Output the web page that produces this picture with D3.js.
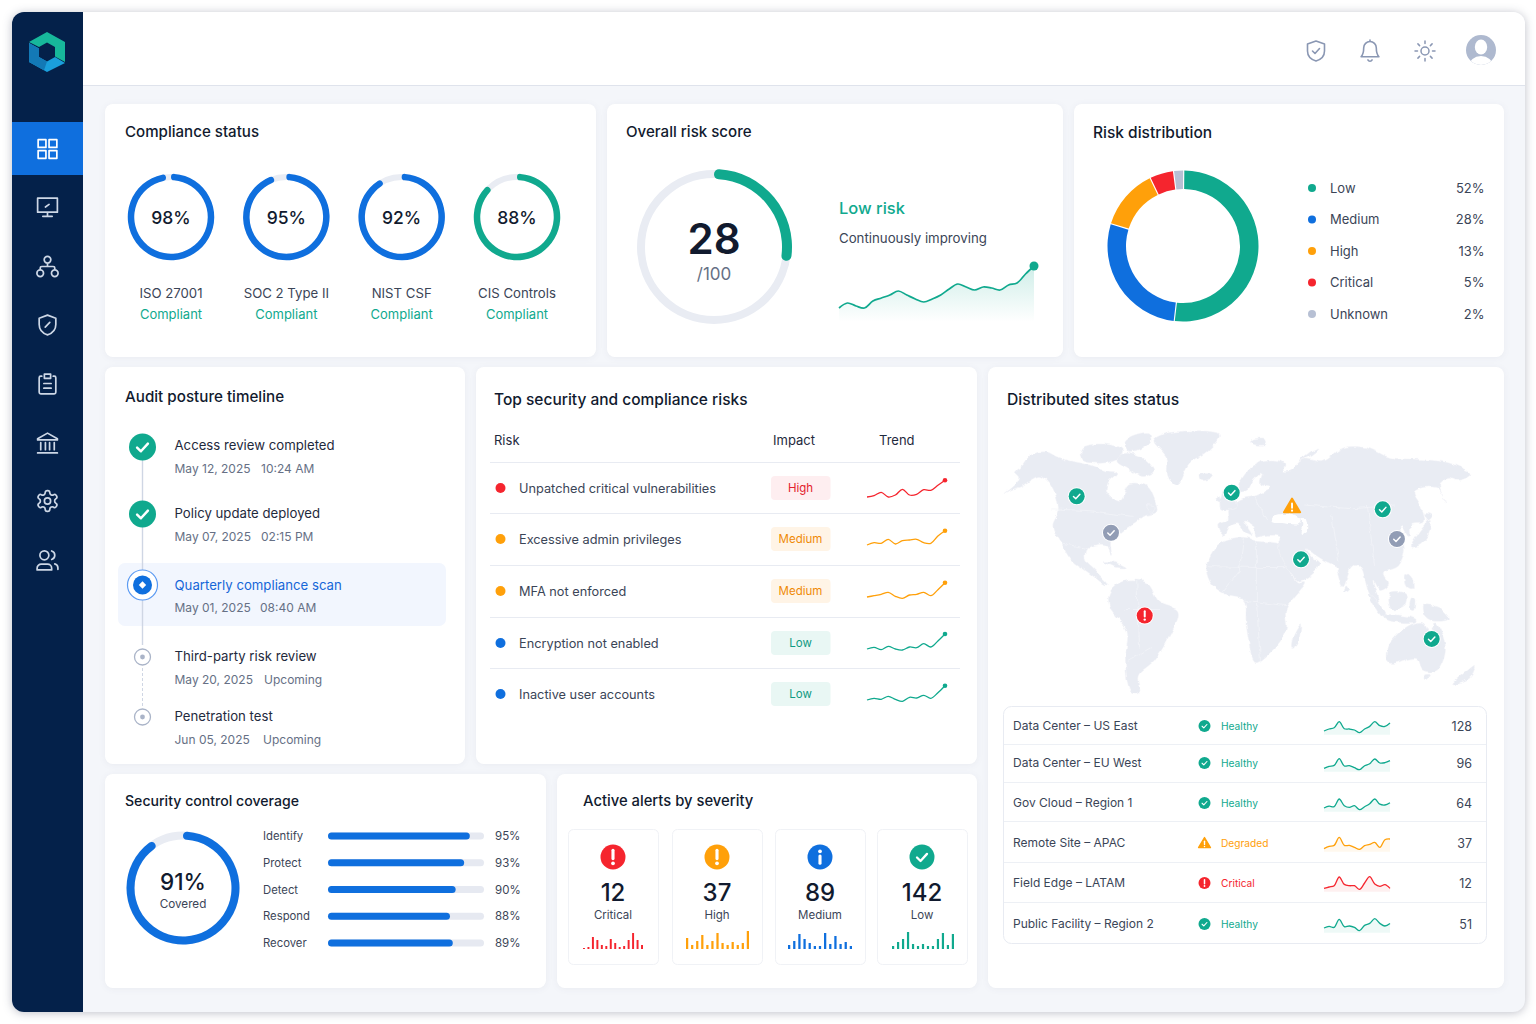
<!DOCTYPE html>
<html>
<head>
<meta charset="utf-8">
<title>Security compliance dashboard</title>
<script src="https://cdn.jsdelivr.net/npm/d3@7"></script>
<style>
  html, body { margin: 0; background: #fff; }
  svg { display: block; font-family: Inter, "Noto Sans", sans-serif; }
</style>
</head>
<body>
<svg id="chart" width="1536" height="1024"></svg>
<script>
// ---- data ----
const complianceNames = ["ISO 27001", "SOC 2 Type II", "NIST CSF", "CIS Controls"];
const complianceValues = [98, 95, 92, 88];

const riskScore = 28;
const riskScoreTrend = [2, 7, 4, 2, 9, 12, 15, 19, 15, 11, 8, 11, 15, 21, 26, 23, 20, 23, 22, 20, 25, 27, 36, 44];

const riskLevels = ["Low", "Medium", "High", "Critical", "Unknown"];
const riskShares = [52, 28, 13, 5, 2];

const auditTitles = ["Access review completed", "Policy update deployed", "Quarterly compliance scan", "Third-party risk review", "Penetration test"];
const auditDates = ["May 12, 2025", "May 07, 2025", "May 01, 2025", "May 20, 2025", "Jun 05, 2025"];
const auditNotes = ["10:24 AM", "02:15 PM", "08:40 AM", "Upcoming", "Upcoming"];
const auditStates = ["done", "done", "active", "next", "next"];

const topRisks = ["Unpatched critical vulnerabilities", "Excessive admin privileges", "MFA not enforced", "Encryption not enabled", "Inactive user accounts"];
const topRiskImpact = ["High", "Medium", "Medium", "Low", "Low"];
const topRiskDots = ["Critical", "High", "High", "Medium", "Medium"];
const topRiskTrends = [
  [-3, -1.7, 1.7, -3, -1, 4.7, -1, -0.3, 4.3, 3.7, 8.7, 13.7],
  [0, 2.3, 1.7, 5.7, 1, 4.3, 5, 5.7, 2.3, 1.7, 9, 14.3],
  [0, 1.3, 2.7, 4.7, 0.7, -1.3, 2, 2.7, 4.7, 1.3, 7.3, 14.3],
  [0, 1.7, -0.7, 2.7, 0, -1, 2, 1.3, 5.3, 2, 8, 15],
  [0, 1.7, 0.7, 3.7, 0.7, -1.3, 2.7, 2, 4.7, 1.7, 7.3, 14.3]
];

const coverageTotal = 91;
const coverageNames = ["Identify", "Protect", "Detect", "Respond", "Recover"];
const coverageValues = [95, 93, 90, 88, 89];

const alertNames = ["Critical", "High", "Medium", "Low"];
const alertCounts = [12, 37, 89, 142];
const alertBars = [
  [1, 2, 12, 9, 4, 3, 10, 6, 2, 3, 9, 16, 9, 4],
  [11, 4, 8, 14, 4, 8, 16, 6, 4, 7, 4, 6, 18],
  [4, 8, 15, 10, 6, 3, 3, 16, 5, 13, 5, 7, 3],
  [3, 7, 10, 17, 5, 3, 5, 3, 3, 10, 16, 4, 15]
];

const siteNames = ["Data Center – US East", "Data Center – EU West", "Gov Cloud – Region 1", "Remote Site – APAC", "Field Edge – LATAM", "Public Facility – Region 2"];
const siteStates = ["Healthy", "Healthy", "Healthy", "Degraded", "Critical", "Healthy"];
const siteCounts = [128, 96, 64, 37, 12, 51];
const siteTrends = [
  [1.7, 3.7, 5, 11, 4, 3.7, 2.7, 0, 3.7, 6.3, 11, 7, 6.3, 9.7],
  [1.3, 3.3, 4.3, 11, 3.7, 4, 2, 0, 4, 6, 10.7, 6.7, 7, 9],
  [1.7, 3.5, 3, 10.7, 4, 2.3, 4, 0, 3, 6, 10.7, 5.5, 4.7, 7],
  [1, 3.3, 4.3, 12.3, 4.3, 4.3, 2.3, 0.3, 4, 5.3, 7.3, 2.3, 10, 10.7],
  [1.3, 2.7, 4, 12.7, 5.3, 4, 4, 0.3, 6.7, 13, 5.7, 3.3, 5, 1.3],
  [2.7, 4.3, 3.3, 11.3, 4, 4.7, 3.3, 0, 5.3, 7.3, 12, 7.3, 4.7, 7.3]
];

// map pins and land outlines as [lon, lat] in the picture's own stylised map
const pinCoords = [[-104.2, 54.6], [-80.1, 35.4], [4.7, 56.5], [47.1, 49.5], [110.8, 47.7], [120.8, 32.1], [53.4, 21.4], [-56.4, -8.2], [145.2, -20.5]];
const pinStates = ["ok", "idle", "ok", "warn", "ok", "idle", "ok", "crit", "ok"];

const northAmerica = [[-154.6, 56], [-147, 61], [-145, 64], [-148, 67], [-142, 71], [-137, 76], [-126, 78], [-117, 75], [-107, 73], [-95, 71], [-84, 68], [-76, 67], [-82, 62], [-83, 57], [-74, 52], [-71, 55], [-67, 61], [-55, 60], [-50, 54], [-48, 46.5], [-57, 44], [-62, 41], [-73, 35], [-80, 31], [-80, 24], [-84, 29], [-97, 27], [-98, 21], [-92, 16], [-82, 8], [-84, 8], [-97, 15], [-108, 21], [-115, 30], [-121, 39], [-117, 47], [-122, 60], [-130, 65], [-144, 59.5], [-150, 58]];
const southAmerica = [[-81, 4], [-71, 10], [-55, 9], [-46, -1], [-33, -6], [-39, -19], [-50, -32], [-61, -40], [-60, -49], [-66, -48.5], [-70, -32], [-69, -16], [-81, -3.5]];
const africa = [[-13, 17.5], [-3.5, 30], [13, 33], [22, 31], [39, 29], [43, 19], [51.5, 9], [56, 9], [43, -5], [43, -16], [34, -26], [22, -33], [20, -32], [15, -14], [13, 0], [-1, 3.5], [-10, 9]];
const eurasia = [[-1, 34], [-5, 39.5], [2, 42], [2, 47], [11, 53], [22, 55], [32, 59], [25, 61], [26, 67], [19, 62], [16, 58], [9, 57], [12, 64], [25, 73], [42, 72], [41, 68], [46, 68], [55, 74], [69, 73], [83, 80], [100, 80], [116, 75], [137, 74], [158, 72], [173, 66], [164, 63], [157, 64], [151, 61], [155, 51], [149, 59], [133, 57], [138, 49], [140, 41], [131, 39.5], [130, 33], [124, 39], [126, 26], [122, 18], [112, 14], [115, 8], [109, 5], [104, 10.5], [110, -6], [101, 4], [95, 17.5], [89, 17.5], [83, 7], [77, 17.5], [69, 21], [63, 24], [57, 27], [61, 23], [67, 19], [56, 10.5], [51.5, 9.6], [44.5, 16], [37.5, 27], [39, 33], [28, 34], [22, 33], [20, 39], [13, 42], [19, 34], [15, 35], [9, 40], [3.5, 39]];
const australia = [[114, -25], [128, -14], [139, -12], [144, -17.5], [147.5, -12], [155, -25], [149, -37], [139, -37], [135, -31], [115, -33]];
const greenland = [[-50, 84], [-39, 88], [-4, 87], [-13, 78], [-25, 72], [-34, 60], [-40, 65], [-41, 75]];
const islands = [
  [[-100, 80], [-84, 82], [-72, 79], [-76, 74], [-90, 72], [-100, 74]],
  [[-70, 84], [-54, 88], [-52, 84], [-60, 79], [-68, 78]],
  [[-72, 77], [-58, 75], [-50, 68], [-57, 65], [-68, 69], [-76, 73]],
  [[-55, 50], [-49, 49], [-52, 45.5]],
  [[-85, 20], [-78, 20], [-70, 17], [-78, 17.5]],
  [[-18, 66], [-8, 66], [-10, 64], [-17, 63]],
  [[-3, 48], [0, 59], [7, 53], [9, 49]],
  [[-7, 53], [-4, 55], [-3.5, 51]],
  [[18, 84], [28, 85], [29, 82], [20, 82]],
  [[52, 73], [62, 79], [66, 80], [60, 76]],
  [[139, 38], [144, 42], [143, 34.5], [137, 29], [131, 28]],
  [[140, 46], [146, 45], [143, 42]],
  [[127, 14], [131, 12], [132, 6], [128, 7]],
  [[116, 4], [127, 3], [126, -3], [117, -5]],
  [[101, 3], [106, 0], [114, -9], [110, -8]],
  [[112, -8], [134, -10], [134, -11.5], [112, -10]],
  [[131, 1], [134, 0], [133, -5], [130, -4]],
  [[139, -3], [150, -4], [157, -10], [146, -11], [140, -8]],
  [[140, -39.5], [145, -39.5], [142, -42]],
  [[160, -44], [172, -36], [176, -34], [172, -41]],
  [[85, 7.5], [87, 5], [84, 4]],
  [[48, -19], [53, -13], [51, -23], [47, -25]]
];
const inlandSeas = [
  [[34, 44], [46, 45], [53, 42], [52, 40], [40, 40.5], [33, 41]],
  [[53, 43], [57, 43], [58, 36], [54, 35], [55, 40]]
];
const borderLines = [
  [[-122, 48], [-95, 47], [-65, 44]], [[-115, 30], [-97, 27]],
  [[-70, -5], [-45, -5]], [[-62, 10], [-60, -25]], [[-68, -32], [-52, -25]],
  [[13, 33], [10, 15], [-2, 3.5]], [[22, 31], [22, 0], [25, -33]], [[-13, 17.5], [43, 17]], [[13, 0], [43, -3]],
  [[55, 50], [90, 48], [120, 50]], [[75, 45], [80, 20]], [[100, 50], [105, 18]], [[21, 54], [30, 42]]
];

// ---- palette ----
const teal = "#10a98e", blue = "#0f6fde", orange = "#ffa00a", red = "#f5252e", grey = "#b7c0d4";
const ink = "#111a2e", body = "#3b4557", muted = "#667085", hairline = "#e8ebf2";
const levelColor = d3.scaleOrdinal(riskLevels, [teal, blue, orange, red, grey]);
const stateColor = d3.scaleOrdinal(["Healthy", "Degraded", "Critical"], [teal, orange, red]);
const impactColor = d3.scaleOrdinal(["High", "Medium", "Low"], ["#e3212b", "#ef8a06", "#0f9a82"]);
const impactFill = d3.scaleOrdinal(["High", "Medium", "Low"], ["#feeef0", "#fff4e6", "#e9f7f4"]);
const pinColor = d3.scaleOrdinal(["ok", "idle", "warn", "crit"], [teal, "#929db5", orange, red]);

const svg = d3.select("#chart");
const defs = svg.append("defs");

function label(g, x, y, str, size, fill, weight, anchor) {
  return g.append("text")
    .attr("x", x).attr("y", y).attr("dy", "0.36em")
    .attr("font-size", size).attr("fill", fill)
    .attr("font-weight", weight || 400)
    .attr("text-anchor", anchor || "start")
    .text(str);
}

function card(x, y, w, h) {
  return svg.append("rect")
    .attr("x", x).attr("y", y).attr("width", w).attr("height", h)
    .attr("rx", 8).attr("fill", "#fff")
    .style("filter", "drop-shadow(0 1px 3px rgba(30,45,80,0.05))");
}

function icon(g, d, cx, cy, s, stroke, sw) {
  g.append("path")
    .attr("transform", `translate(${cx - 12 * s},${cy - 12 * s}) scale(${s})`)
    .attr("d", d).attr("fill", "none").attr("stroke", stroke)
    .attr("stroke-width", sw / s).attr("stroke-linecap", "round").attr("stroke-linejoin", "round");
}

// small round/triangle status glyph
function glyph(g, cx, cy, r, kind, color) {
  const s = r / 12;
  const t = g.append("g").attr("transform", `translate(${cx},${cy}) scale(${s})`);
  if (kind === "warn") {
    t.append("path").attr("d", "M0 -12 L13 10 H-13 Z").attr("fill", color)
      .attr("stroke", color).attr("stroke-width", 3).attr("stroke-linejoin", "round");
    t.append("path").attr("d", "M0 -4 V3").attr("stroke", "#fff").attr("stroke-width", 3).attr("stroke-linecap", "round");
    t.append("circle").attr("cy", 7.5).attr("r", 1.7).attr("fill", "#fff");
    return t;
  }
  t.append("circle").attr("r", 12).attr("fill", color);
  if (kind === "check") {
    t.append("path").attr("d", "M-4.8 0.5 L-1.4 3.8 L4.8 -3").attr("fill", "none")
      .attr("stroke", "#fff").attr("stroke-width", 2.2).attr("stroke-linecap", "round").attr("stroke-linejoin", "round");
  } else if (kind === "bang") {
    t.append("path").attr("d", "M0 -6.5 V1.5").attr("stroke", "#fff").attr("stroke-width", 3).attr("stroke-linecap", "round");
    t.append("circle").attr("cy", 6).attr("r", 1.8).attr("fill", "#fff");
  } else if (kind === "info") {
    t.append("path").attr("d", "M0 -1 V6").attr("stroke", "#fff").attr("stroke-width", 3).attr("stroke-linecap", "round");
    t.append("circle").attr("cy", -5.5).attr("r", 1.8).attr("fill", "#fff");
  }
  return t;
}

// one progress ring: pale track and a round-ended arc
function ring(g, cx, cy, r, trackW, barW, pct, color) {
  const angle = d3.scaleLinear([0, 100], [0, 2 * Math.PI]);
  const host = g.append("g").attr("transform", `translate(${cx},${cy})`);
  host.append("circle").attr("r", r).attr("fill", "none").attr("stroke", "#e9ecf3").attr("stroke-width", trackW);
  host.append("path")
    .attr("fill", color)
    .attr("d", d3.arc()
      .innerRadius(r - barW / 2).outerRadius(r + barW / 2)
      .cornerRadius(barW / 2)
      .startAngle(0).endAngle(angle(pct))());
}

// thin trend line, optional pale area underneath and end dot
function spark(g, values, x0, x1, baseY, color, areaDepth, dotR) {
  const x = d3.scalePoint(d3.range(values.length), [x0, x1]);
  const y = v => baseY - v;
  const line = d3.line().x((d, i) => x(i)).y(y).curve(d3.curveCatmullRom.alpha(0.5));
  if (areaDepth) {
    g.append("path").attr("fill", color).attr("opacity", 0.07)
      .attr("d", d3.area().x((d, i) => x(i)).y0(baseY + areaDepth).y1(y).curve(d3.curveCatmullRom.alpha(0.5))(values));
  }
  g.append("path").attr("fill", "none").attr("stroke", color).attr("stroke-width", 1.3)
    .attr("stroke-linejoin", "round").attr("d", line(values));
  if (dotR) g.append("circle").attr("cx", x1).attr("cy", y(values[values.length - 1])).attr("r", dotR).attr("fill", color);
}

// ---- shell ----
svg.append("rect")
  .attr("x", 12).attr("y", 12).attr("width", 1513).attr("height", 1000).attr("rx", 12)
  .attr("fill", "#f4f6fa")
  .style("filter", "drop-shadow(0 1px 5px rgba(20,30,60,0.28))");

svg.append("path")
  .attr("d", "M24 12 H83 V1012 H24 A12 12 0 0 1 12 1000 V24 A12 12 0 0 1 24 12 Z")
  .attr("fill", "#04214a");
svg.append("path")
  .attr("d", "M83 12 H1513 A12 12 0 0 1 1525 24 V85 H83 Z")
  .attr("fill", "#fff");
svg.append("line").attr("x1", 83).attr("x2", 1525).attr("y1", 85.5).attr("y2", 85.5).attr("stroke", "#dfe3ec");
svg.append("rect").attr("x", 12).attr("y", 122).attr("width", 71).attr("height", 53).attr("fill", blue);

// logo
const logo = svg.append("g").attr("transform", "translate(47,52)");
logo.append("path").attr("d", "M0 -20 L18 -10 V10 L8 4.5 V-5 L0 -9.5 L-8 -5 L-18 -10 Z").attr("fill", "#17b89b");
logo.append("path").attr("d", "M-18 -9 L-8 -3.5 V5 L0 9.5 L8 5 L18 11 L0 20 L-18 10 Z").attr("fill", "#1a9fdc");
logo.append("path").attr("d", "M-18 -9 L-8 -3.5 V5 L0 9.5 L-3 18.2 L-18 10 Z").attr("fill", "#1379b6");

// sidebar + header icons
const navIcons = [
  "M3 3h7.5v7.5H3zM13.5 3H21v7.5h-7.5zM3 13.5h7.5V21H3zM13.5 13.5H21V21h-7.5z",
  "M2.5 3.5h19v13.5h-19zM12 17v4M7.5 21h9M10 12l3.5-2.5",
  "M12 5m-3.2 0a3.2 3.2 0 1 0 6.4 0a3.2 3.2 0 1 0-6.4 0M5 18m-3.2 0a3.2 3.2 0 1 0 6.4 0a3.2 3.2 0 1 0-6.4 0M19 18m-3.2 0a3.2 3.2 0 1 0 6.4 0a3.2 3.2 0 1 0-6.4 0M12 8.2v3.3M5 14.8V13a1.5 1.5 0 0 1 1.5-1.5h11A1.5 1.5 0 0 1 19 13v1.8",
  "M12 2.5 20 5.5v6c0 5-3.5 8.5-8 10-4.5-1.5-8-5-8-10v-6zM9.8 14l4.4-4.5",
  "M6.5 4.5h-1a1.5 1.5 0 0 0-1.5 1.5v14a1.5 1.5 0 0 0 1.5 1.5h13a1.5 1.5 0 0 0 1.5-1.5V6a1.5 1.5 0 0 0-1.5-1.5h-1M9 2.5h6v4H9zM8.5 11.5h7M8.5 16h7",
  "M12 2.5 2.5 8v1h19V8zM5.5 11.5v7M10 11.5v7M14 11.5v7M18.5 11.5v7M2.5 21.5h19",
  "M12.22 2h-.44a2 2 0 0 0-2 2v.18a2 2 0 0 1-1 1.73l-.43.25a2 2 0 0 1-2 0l-.15-.08a2 2 0 0 0-2.73.73l-.22.38a2 2 0 0 0 .73 2.73l.15.1a2 2 0 0 1 1 1.72v.51a2 2 0 0 1-1 1.74l-.15.09a2 2 0 0 0-.73 2.73l.22.38a2 2 0 0 0 2.73.73l.15-.08a2 2 0 0 1 2 0l.43.25a2 2 0 0 1 1 1.73V20a2 2 0 0 0 2 2h.44a2 2 0 0 0 2-2v-.18a2 2 0 0 1 1-1.73l.43-.25a2 2 0 0 1 2 0l.15.08a2 2 0 0 0 2.73-.73l.22-.39a2 2 0 0 0-.73-2.73l-.15-.08a2 2 0 0 1-1-1.74v-.5a2 2 0 0 1 1-1.74l.15-.09a2 2 0 0 0 .73-2.73l-.22-.38a2 2 0 0 0-2.73-.73l-.15.08a2 2 0 0 1-2 0l-.43-.25a2 2 0 0 1-1-1.73V4a2 2 0 0 0-2-2zM12 12m-3 0a3 3 0 1 0 6 0a3 3 0 1 0-6 0",
  "M16 21.5v-1.5a4 4 0 0 0-4-4H6a4 4 0 0 0-4 4v1.5zM9 7.5m-4.3 0a4.3 4.3 0 1 0 8.6 0a4.3 4.3 0 1 0-8.6 0M16 3.3a4.3 4.3 0 0 1 0 8.2M22 21v-1.5a4 4 0 0 0-3-3.8"
];
const navY = [149, 207, 267, 325, 384, 443, 501, 560];
const navLayer = svg.append("g");
navIcons.forEach((d, i) => icon(navLayer, d, 47.5, navY[i], 1.04, i === 0 ? "#fff" : "#cdd7e6", 1.7));

const topLayer = svg.append("g");
icon(topLayer, "M12 2 20.5 5v7c0 5-3.5 8.5-8.5 10-5-1.5-8.5-5-8.5-10V5zM8.5 12l2.5 2.5 4.5-5", 1316, 51, 1, "#8a97b3", 1.6);
icon(topLayer, "M6 9a6 6 0 0 1 12 0c0 6 2.5 8.5 2.5 8.5h-17S6 15 6 9M10 20.5a2.2 2.2 0 0 0 4 0M12 1.5V3", 1370, 51, 1.05, "#8a97b3", 1.6);
icon(topLayer, "M12 12m-4 0a4 4 0 1 0 8 0a4 4 0 1 0-8 0M12 2v2.5M12 19.5V22M4.9 4.9l1.7 1.7M17.4 17.4l1.7 1.7M2 12h2.5M19.5 12H22M6.6 17.4l-1.7 1.7M19.1 4.9l-1.7 1.7", 1425, 51, 1, "#8a97b3", 1.5);
const avatar = topLayer.append("g").attr("transform", "translate(1481,50)");
defs.append("clipPath").attr("id", "avatar-clip").append("circle").attr("r", 15);
avatar.append("circle").attr("r", 15).attr("fill", "#aeb9cf");
avatar.append("g").attr("clip-path", "url(#avatar-clip)").call(g => {
  g.append("ellipse").attr("cy", -3).attr("rx", 6.2).attr("ry", 7.5).attr("fill", "#fff");
  g.append("ellipse").attr("cy", 16).attr("rx", 12).attr("ry", 10).attr("fill", "#fff");
});

// ---- cards ----
[[105, 104, 491, 253], [607, 104, 456, 253], [1074, 104, 430, 253],
 [105, 367, 360, 397], [476, 367, 501, 397], [988, 367, 516, 621],
 [105, 774, 441, 214], [557, 774, 420, 214]].forEach(c => card(...c));

const titles = [["Compliance status", 125, 132, 15.1], ["Overall risk score", 626, 132, 15.1], ["Risk distribution", 1093, 132, 15.5],
  ["Audit posture timeline", 125, 397, 15.2], ["Top security and compliance risks", 494, 399, 15.5], ["Distributed sites status", 1007, 399, 15.7],
  ["Security control coverage", 125, 801, 14.1], ["Active alerts by severity", 583, 801, 14.8]];
titles.forEach(t => label(svg, t[1], t[2], t[0], t[3], ink, 500));

// ---- compliance rings ----
const complianceX = d3.scalePoint(complianceNames, [171, 517]);
const compliance = svg.append("g");
complianceNames.forEach((name, i) => {
  const cx = complianceX(name), color = i === 3 ? teal : blue;
  ring(compliance, cx, 217, 40, 6, 6.5, complianceValues[i], color);
  label(compliance, cx, 217.5, complianceValues[i] + "%", 17.5, ink, 500, "middle");
  label(compliance, cx, 293, name, 13.2, body, 400, "middle");
  label(compliance, cx, 314, "Compliant", 13, teal, 400, "middle");
});

// ---- overall risk score ----
const overall = svg.append("g");
ring(overall, 714, 247, 73, 8, 10, riskScore, teal);
label(overall, 714, 239, riskScore, 42, ink, 600, "middle");
label(overall, 714, 274, "/100", 17, muted, 400, "middle");
label(overall, 839, 208, "Low risk", 16.5, teal, 500);
label(overall, 839, 238, "Continuously improving", 13.25, body, 400);

const grad = defs.append("linearGradient").attr("id", "score-fade").attr("x1", 0).attr("x2", 0).attr("y1", 0).attr("y2", 1);
grad.append("stop").attr("offset", 0).attr("stop-color", teal).attr("stop-opacity", 0.2);
grad.append("stop").attr("offset", 1).attr("stop-color", teal).attr("stop-opacity", 0);
const scoreX = d3.scalePoint(d3.range(riskScoreTrend.length), [839, 1034]);
const scoreY = d3.scaleLinear([0, 44], [310, 266]);
overall.append("path").attr("fill", "url(#score-fade)")
  .attr("d", d3.area().x((d, i) => scoreX(i)).y0(322).y1(scoreY).curve(d3.curveCatmullRom.alpha(0.5))(riskScoreTrend));
overall.append("path").attr("fill", "none").attr("stroke", teal).attr("stroke-width", 1.7)
  .attr("d", d3.line().x((d, i) => scoreX(i)).y(scoreY).curve(d3.curveCatmullRom.alpha(0.5))(riskScoreTrend));
overall.append("circle").attr("cx", 1034).attr("cy", scoreY(44)).attr("r", 4.5).attr("fill", teal);

// ---- risk distribution ----
const donut = svg.append("g").attr("transform", "translate(1183,246)");
const pie = d3.pie().sort(null).padAngle(0.012).startAngle(0.01).endAngle(2 * Math.PI + 0.01)(riskShares);
donut.selectAll("path").data(pie).join("path")
  .attr("fill", (d, i) => levelColor(riskLevels[i]))
  .attr("d", d3.arc().innerRadius(57).outerRadius(75.5));
const legendY = d3.scalePoint(riskLevels, [188, 314]);
const legend = svg.append("g");
riskLevels.forEach((name, i) => {
  legend.append("circle").attr("cx", 1312).attr("cy", legendY(name)).attr("r", 4).attr("fill", levelColor(name));
  label(legend, 1330, legendY(name), name, 13, body);
  label(legend, 1484.5, legendY(name), riskShares[i] + "%", 13, body, 400, "end");
});

// ---- audit timeline ----
const timeline = svg.append("g");
const auditDotY = [447, 514, 585, 657, 717];
const auditTitleY = [445, 513, 585, 656, 716];
const auditSubY = [469, 537, 608, 680, 740];
const auditNoteX = [261, 261, 260, 264, 263];
timeline.append("rect").attr("x", 118).attr("y", 563).attr("width", 328).attr("height", 63).attr("rx", 7).attr("fill", "#f2f6fe");
timeline.append("line").attr("x1", 142.5).attr("x2", 142.5).attr("y1", 447).attr("y2", 645).attr("stroke", "#cfd6e4").attr("stroke-width", 1.4);
timeline.append("line").attr("x1", 142.5).attr("x2", 142.5).attr("y1", 668).attr("y2", 706).attr("stroke", "#cfd6e4").attr("stroke-width", 1).attr("stroke-dasharray", "3 2");
auditTitles.forEach((title, i) => {
  const state = auditStates[i], y = auditDotY[i];
  if (state === "done") {
    glyph(timeline, 142.5, y, 13.5, "check", teal);
  } else if (state === "active") {
    timeline.append("circle").attr("cx", 142.5).attr("cy", y).attr("r", 15).attr("fill", "#fff").attr("stroke", "#5b9af2").attr("stroke-width", 1.2);
    timeline.append("circle").attr("cx", 142.5).attr("cy", y).attr("r", 9.5).attr("fill", blue);
    timeline.append("path").attr("transform", `translate(142.5,${y}) rotate(45)`).attr("d", "M-2.6 -2.6h5.2v5.2h-5.2z").attr("fill", "#fff");
  } else {
    timeline.append("circle").attr("cx", 142.5).attr("cy", y).attr("r", 8).attr("fill", "#fff").attr("stroke", "#aab4c8").attr("stroke-width", 1.3);
    timeline.append("circle").attr("cx", 142.5).attr("cy", y).attr("r", 2.4).attr("fill", "#aab4c8");
  }
  label(timeline, 174.5, auditTitleY[i], title, 13.2, state === "active" ? "#1666d8" : "#1f2a3d");
  label(timeline, 174.5, auditSubY[i], auditDates[i], 12, muted);
  label(timeline, auditNoteX[i], auditSubY[i], auditNotes[i], 12, muted);
});

// ---- top risks table ----
const table = svg.append("g");
label(table, 494, 440, "Risk", 13, "#1f2a3d");
label(table, 773, 440, "Impact", 13, "#1f2a3d");
label(table, 879, 440, "Trend", 13, "#1f2a3d");
const riskRowY = [488, 539, 591, 643, 694];
[462, 513, 565, 617, 668].forEach(y => table.append("line").attr("x1", 490).attr("x2", 960).attr("y1", y + 0.5).attr("y2", y + 0.5).attr("stroke", hairline));
topRisks.forEach((name, i) => {
  const y = riskRowY[i], impact = topRiskImpact[i], dot = levelColor(topRiskDots[i]);
  table.append("circle").attr("cx", 500.5).attr("cy", y).attr("r", 5).attr("fill", dot);
  label(table, 519, y, name, 12.75, body);
  table.append("rect").attr("x", 771).attr("y", y - 12).attr("width", 59.5).attr("height", 24).attr("rx", 4).attr("fill", impactFill(impact));
  label(table, 800.5, y, impact, 11.5, impactColor(impact), 400, "middle");
  spark(table, topRiskTrends[i], 867, 945, y + 6, i === 0 ? red : i < 3 ? orange : teal, 0, 2.3);
});

// ---- world map ----
const lonScale = d3.scaleLinear([-180, 180], [968.8, 1481.2]);
const latScale = d3.scaleLinear([90, -90], [429, 771]);
const coast = d3.line().x(d => lonScale(d[0])).y(d => latScale(d[1])).curve(d3.curveCatmullRomClosed.alpha(0.5));
const borderPath = d3.line().x(d => lonScale(d[0])).y(d => latScale(d[1]));
const rough = defs.append("filter").attr("id", "coast-rough").attr("x", "-5%").attr("y", "-5%").attr("width", "110%").attr("height", "110%");
rough.append("feTurbulence").attr("type", "fractalNoise").attr("baseFrequency", 0.11).attr("numOctaves", 3).attr("seed", 4).attr("result", "noise");
rough.append("feDisplacementMap").attr("in", "SourceGraphic").attr("in2", "noise").attr("scale", 5).attr("xChannelSelector", "R").attr("yChannelSelector", "G");
const land = [northAmerica, southAmerica, africa, eurasia, australia, greenland, ...islands];
const map = svg.append("g");
const landLayer = map.append("g").attr("filter", "url(#coast-rough)");
landLayer.selectAll("path.land").data(land).join("path").attr("class", "land")
  .attr("fill", "#e9ecf3").attr("stroke", "#f4f5f9").attr("stroke-width", 0.5).attr("d", coast);
landLayer.selectAll("path.sea").data(inlandSeas).join("path").attr("class", "sea").attr("fill", "#fff").attr("d", coast);
landLayer.selectAll("path.border").data(borderLines).join("path").attr("class", "border")
  .attr("fill", "none").attr("stroke", "#f3f5f9").attr("stroke-width", 0.7).attr("d", borderPath);

pinCoords.forEach((c, i) => {
  const state = pinStates[i], x = lonScale(c[0]), y = latScale(c[1]);
  if (state === "warn") {
    glyph(map, x, y, 7.5, "warn", pinColor(state));
  } else {
    map.append("circle").attr("cx", x).attr("cy", y).attr("r", 9).attr("fill", "#fff");
    glyph(map, x, y, 8, state === "crit" ? "bang" : "check", pinColor(state));
  }
});

// ---- sites table ----
const sites = svg.append("g");
sites.append("rect").attr("x", 1003.5).attr("y", 706.5).attr("width", 483).attr("height", 237).attr("rx", 8).attr("fill", "#fff").attr("stroke", hairline);
[744, 782, 821, 862, 902].forEach(y => sites.append("line").attr("x1", 1004).attr("x2", 1486).attr("y1", y + 0.5).attr("y2", y + 0.5).attr("stroke", "#edf0f5"));
const siteRowY = [726, 763, 803, 843, 883, 924];
siteNames.forEach((name, i) => {
  const y = siteRowY[i], state = siteStates[i], color = stateColor(state);
  label(sites, 1013, y, name, 12, body);
  glyph(sites, 1204.5, y, state === "Degraded" ? 5.5 : 6, state === "Healthy" ? "check" : state === "Critical" ? "bang" : "warn", color);
  label(sites, 1221, y + 0.5, state, 10.2, color);
  spark(sites, siteTrends[i], 1324, 1390, y + 6.7, color, 2, 0);
  label(sites, 1472, y, siteCounts[i], 12.5, body, 400, "end");
});

// ---- security control coverage ----
const coverage = svg.append("g");
ring(coverage, 183, 888, 52.5, 8, 8, coverageTotal, blue);
label(coverage, 183, 882, coverageTotal + "%", 22.5, ink, 500, "middle");
label(coverage, 183, 904, "Covered", 11.7, body, 400, "middle");
const coverageY = d3.scalePoint(coverageNames, [836, 943]);
// the bars in the picture start well above zero, so the scale does too
const coverageW = d3.scaleLinear([45, 100], [0, 156]);
coverage.selectAll("rect.track").data(coverageNames).join("rect").attr("class", "track")
  .attr("x", 328).attr("y", d => coverageY(d) - 3.5).attr("width", 156).attr("height", 7).attr("rx", 3.5).attr("fill", "#e6e9f1");
coverage.selectAll("rect.fill").data(coverageValues).join("rect").attr("class", "fill")
  .attr("x", 328).attr("y", (d, i) => coverageY(coverageNames[i]) - 3.5).attr("width", coverageW).attr("height", 7).attr("rx", 3.5).attr("fill", blue);
coverageNames.forEach((name, i) => {
  label(coverage, 263, coverageY(name), name, 11.3, body);
  label(coverage, 495, coverageY(name), coverageValues[i] + "%", 11.5, body);
});

// ---- alerts ----
const alertTileX = [568, 672, 775, 877];
const alertTileW = [90, 90, 90, 90];
const alertColors = [red, orange, blue, teal];
const alertGlyphs = ["bang", "bang", "info", "check"];
const alertBarX = [[583, 643], [686, 749], [788, 852], [892, 954]];
const alerts = svg.append("g");
alertNames.forEach((name, i) => {
  const x = alertTileX[i], cx = x + alertTileW[i] / 2;
  alerts.append("rect").attr("x", x + 0.5).attr("y", 829.5).attr("width", alertTileW[i]).attr("height", 135).attr("rx", 5).attr("fill", "#fff").attr("stroke", "#f0f2f6");
  glyph(alerts, cx, 857, 12.5, alertGlyphs[i], alertColors[i]);
  label(alerts, cx, 892, alertCounts[i], 24, ink, 500, "middle");
  label(alerts, cx, 915, name, 11.5, body, 400, "middle");
  const bx = d3.scaleBand(d3.range(alertBars[i].length), alertBarX[i]).paddingInner(0.56);
  const by = d3.scaleLinear([0, 18], [949, 931]);
  alerts.append("g").selectAll("rect").data(alertBars[i]).join("rect")
    .attr("x", (d, j) => bx(j)).attr("y", by).attr("width", bx.bandwidth()).attr("height", d => 949 - by(d)).attr("fill", alertColors[i]);
});
</script>
</body>
</html>
